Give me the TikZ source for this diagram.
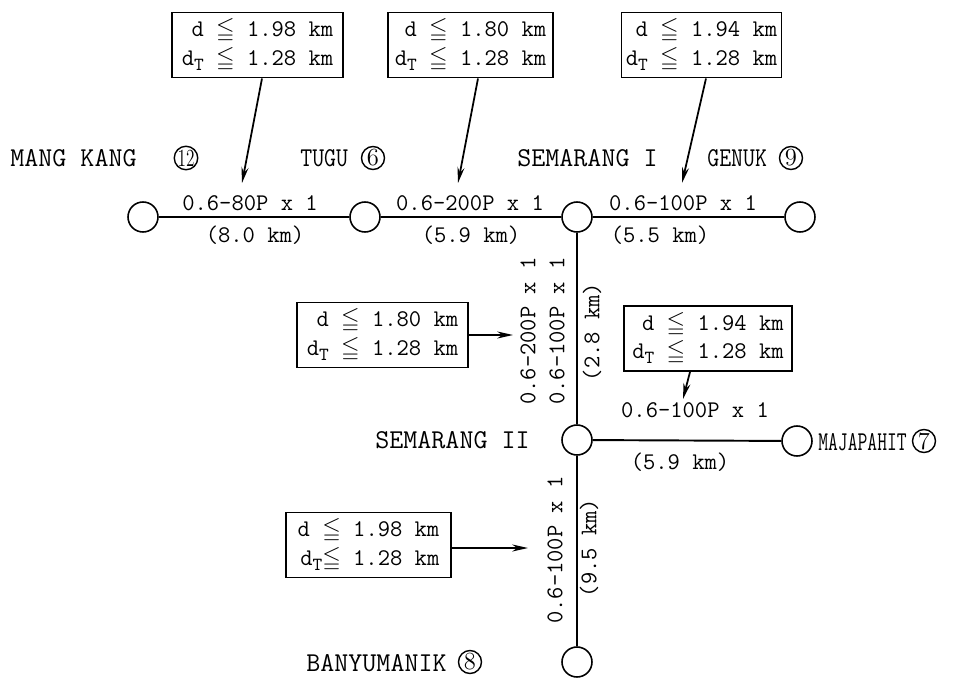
\documentclass[tikz,border=0pt]{standalone}
\usepackage{amssymb}
\usepackage{graphicx}
\usetikzlibrary{arrows.meta,calc}
\newcommand{\lbf}{\fontsize{13.6}{16}\selectfont\ttfamily}
\newcommand{\stf}{\fontsize{15.5}{17}\selectfont\ttfamily}
\newcommand{\myleq}{$\leqq$}
\newcommand{\dT}{d\raisebox{-0.5ex}{\fontsize{10.5}{10.5}\selectfont T}}
\tikzset{
  stn/.style={circle, draw, line width=0.9pt, minimum size=0.6cm, inner sep=0pt},
  ln/.style={line width=1.1pt},
  lbl/.style={font=\lbf, inner sep=0pt},
  vlbl/.style={font=\lbf, inner sep=0pt, rotate=90},
  sname/.style={font=\stf, inner sep=0pt, anchor=west},
  cnum/.style={circle, draw, line width=0.8pt, inner sep=0pt, minimum size=0.46cm, font=\fontsize{14}{14}\selectfont\rmfamily},
  dbox/.style={draw, line width=1.1pt, align=right, font=\lbf, inner sep=2pt, minimum height=1.3cm},
  arr/.style={line width=1pt, -{Stealth[length=9pt,width=4pt]}}
}
\begin{document}
\begin{tikzpicture}[x=0.02cm,y=-0.02cm]
\useasboundingbox (0,0) rectangle (974,679);
% stations
\node[stn] (mk) at (143,217) {};
\node[stn] (tg) at (365,217) {};
\node[stn] (s1) at (577,217) {};
\node[stn] (gn) at (800,217) {};
\node[stn] (s2) at (577,440) {};
\node[stn] (mj) at (797,441) {};
\node[stn] (bm) at (577,662) {};
% lines
\draw[ln] (mk) -- (tg);
\draw[ln] (tg) -- (s1);
\draw[ln] (s1) -- (gn);
\draw[ln] (s1) -- (s2);
\draw[ln] (s2) -- (bm);
\draw[ln] (s2) -- (mj);
% station names
\node[sname] (nmk) at (10,158) {MANG KANG};
\node[cnum] (cmk) at (186,158) {\scalebox{0.7}[1]{12}};
\node[sname] (ntg) at (300,158) {\scalebox{0.85}[1]{TUGU}};
\node[cnum] (ctg) at (373,158) {6};
\node[sname] (ns1) at (517,158) {SEMARANG I};
\node[sname] (ngn) at (707,158) {\scalebox{0.85}[1]{GENUK}};
\node[cnum] (cgn) at (791,158) {9};
\node[sname] (ns2) at (375,440) {SEMARANG II};
\node[sname] (nmj) at (818,442) {\scalebox{0.7}[1]{MAJAPAHIT}};
\node[cnum] (cmj) at (924,441) {7};
\node[sname] (nbm) at (306,663) {BANYUMANIK};
\node[cnum] (cbm) at (470,662) {8};
% edge labels
\node[lbl] (l1a) at (250,203) {0.6-80P x 1};
\node[lbl] (l1b) at (255,235) {(8.0 km)};
\node[lbl] (l2a) at (470,203) {0.6-200P x 1};
\node[lbl] (l2b) at (471,235) {(5.9 km)};
\node[lbl] (l3a) at (683,203) {0.6-100P x 1};
\node[lbl] (l3b) at (660,235) {(5.5 km)};
\node[vlbl] (v1) at (528,331) {0.6-200P x 1};
\node[vlbl] (v2) at (557,331) {0.6-100P x 1};
\node[vlbl] (v3) at (592,332) {(2.8 km)};
\node[lbl] (l4a) at (695,410) {0.6-100P x 1};
\node[lbl] (l4b) at (680,462) {(5.9 km)};
\node[vlbl] (v4) at (555,550) {0.6-100P x 1};
\node[vlbl] (v5) at (589,548) {(9.5 km)};
% boxes
\node[dbox, minimum width=3.42cm] (b1) at (257.5,45) {d \myleq{} 1.98 km\\\dT{} \myleq{} 1.28 km};
\node[dbox, minimum width=3.3cm] (b2) at (470.5,45) {d \myleq{} 1.80 km\\\dT{} \myleq{} 1.28 km};
\node[dbox, minimum width=3.2cm] (b3) at (701.5,45) {d \myleq{} 1.94 km\\\dT{} \myleq{} 1.28 km};
\node[dbox, minimum width=3.42cm] (b4) at (382.5,335) {d \myleq{} 1.80 km\\\dT{} \myleq{} 1.28 km};
\node[dbox, minimum width=3.36cm] (b5) at (708,338.5) {d \myleq{} 1.94 km\\\dT{} \myleq{} 1.28 km};
\node[dbox, minimum width=3.3cm] (b6) at (368.5,545) {d \myleq{} 1.98 km\\\dT{}\myleq{} 1.28 km};
% arrow targets
\coordinate (t1) at (242,183);
\coordinate (t2) at (458,183);
\coordinate (t3) at (682,183);
\coordinate (t4) at (513,335);
\coordinate (t5) at (683,399);
\coordinate (t6) at (528,548);
\draw[arr] ([xshift=0.09cm]b1.south) -- (t1);
\draw[arr] ([xshift=0.15cm]b2.south) -- (t2);
\draw[arr] ([xshift=0.09cm]b3.south) -- (t3);
\draw[arr] (b4.east) -- (t4);
\draw[arr] ([xshift=-0.36cm]b5.south) -- (t5);
\draw[arr] (b6.east |- t6) -- (t6);
\end{tikzpicture}
\end{document}
